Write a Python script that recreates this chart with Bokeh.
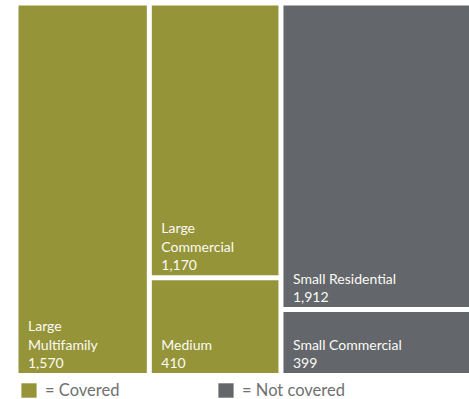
from bokeh.plotting import figure
from bokeh.models import ColumnDataSource, Range1d, Legend, LegendItem
from bokeh.core.properties import value
from bokeh.embed import file_html
from bokeh.resources import INLINE

# ---- data ----
categories = ["Large\nMultifamily", "Large\nCommercial", "Medium", "Small Residential", "Small Commercial"]
counts = [1570, 1170, 410, 1912, 399]
status = ["Covered", "Covered", "Covered", "Not covered", "Not covered"]
columns = [0, 1, 1, 2, 2]          # treemap column of each category
legend_labels = {"Covered": "= Covered", "Not covered": "= Not covered"}

# ---- styling / layout ----
COLORS = {"Covered": "#969438", "Not covered": "#63666a"}
W, H = 469, 399
left_px, top_px, bottom_px, area_w = 18, 5, 372.5, 455
gap = 5

total = sum(counts)
ncol = max(columns) + 1
col_tot = [sum(v for v, c in zip(counts, columns) if c == j) for j in range(ncol)]
col_x0 = []
acc = 0
for t in col_tot:
    col_x0.append(acc)
    acc += t

sx = area_w / total
sy = bottom_px - top_px
gx = gap / 2 / sx
gy = gap / 2 / sy

rects = {"Covered": dict(left=[], right=[], top=[], bottom=[]),
         "Not covered": dict(left=[], right=[], top=[], bottom=[])}
txt = dict(x=[], y=[], text=[], yoff=[])
cum = [0] * ncol
for name, v, st, c in zip(categories, counts, status, columns):
    x0 = col_x0[c]
    x1 = x0 + col_tot[c]
    y1 = 1 - cum[c] / col_tot[c]
    y0 = 1 - (cum[c] + v) / col_tot[c]
    cum[c] += v
    l = x0 + (gx if x0 > 0 else 0)
    r = x1 - (gx if x1 < total else 0)
    t = y1 - (gy if y1 < 1 else 0)
    b = y0 + (gy if y0 > 0 else 0)
    d = rects[st]
    d["left"].append(l); d["right"].append(r); d["top"].append(t); d["bottom"].append(b)
    lines = name.split("\n") + [f"{v:,}"]
    for k, line in enumerate(reversed(lines)):
        txt["x"].append(l)
        txt["y"].append(b)
        txt["text"].append(line)
        txt["yoff"].append(-(10.5 + 18.5 * k))

p = figure(width=W, height=H, output_backend="svg", toolbar_location=None,
           x_axis_location=None, y_axis_location=None,
           x_range=Range1d(-left_px / sx, (W - left_px) / sx),
           y_range=Range1d(-(H - bottom_px) / sy, 1 + top_px / sy),
           min_border=0, min_border_left=0, min_border_right=0,
           min_border_top=0, min_border_bottom=0)
p.grid.visible = False
p.outline_line_color = None
p.background_fill_color = "white"
p.border_fill_color = "white"

renderers = {}
for st in ["Covered", "Not covered"]:
    renderers[st] = p.quad(left="left", right="right", top="top", bottom="bottom",
                           source=ColumnDataSource(rects[st]),
                           fill_color=COLORS[st], line_color=None)

p.text(x="x", y="y", text="text", y_offset="yoff", x_offset=9.5,
       source=ColumnDataSource(txt), text_font=value("Lato"),
       text_font_size="14px", text_color="#fbfbf5",
       text_align="left", text_baseline="alphabetic")

for st, loc in [("Covered", (19, -1)), ("Not covered", (216, -1))]:
    leg = Legend(items=[LegendItem(label=legend_labels[st], renderers=[renderers[st]])],
                 location=loc, padding=0, margin=0, spacing=0,
                 border_line_color=None, background_fill_alpha=0,
                 glyph_width=19, glyph_height=18, label_height=18,
                 label_standoff=7, label_text_font="Lato",
                 label_text_font_size="16.5px", label_text_color="#707173")
    p.add_layout(leg)

open("out.html", "w").write(file_html(p, INLINE))
